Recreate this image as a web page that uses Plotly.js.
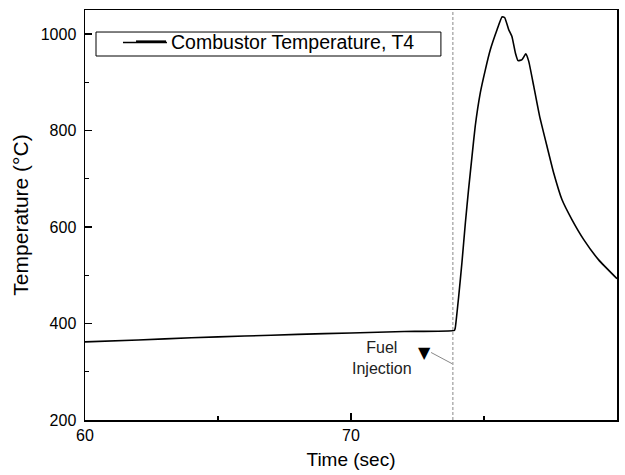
<!DOCTYPE html>
<html>
<head>
<meta charset="utf-8">
<script src="https://cdn.plot.ly/plotly-3.0.1.min.js"></script>
<style>html,body{margin:0;padding:0;background:#fff;}#chart{width:625px;height:475px;}</style>
</head>
<body>
<div id="chart"></div>
<script>
// Time (sec) and combustor temperature T4 (°C)
const timeSec = [60, 62, 64, 66, 68, 70, 72, 73.89, 73.92, 74.05, 74.17, 74.30, 74.42, 74.55, 74.67, 74.86, 75.05, 75.24, 75.49, 75.68, 75.78, 75.93, 76.05, 76.18, 76.28, 76.43, 76.57, 76.68, 76.87, 77.09, 77.37, 77.62, 77.93, 78.31, 78.75, 79.31, 80];
const tempT4 = [362, 366, 370.5, 374, 377.5, 380.5, 383.5, 386, 391, 457, 526, 609, 678, 747, 809, 878, 926, 968, 1009, 1036, 1034, 1009, 995, 961, 945, 947, 959, 944, 892, 830, 767, 712, 657, 615, 574, 532, 493];
const seriesName = 'Combustor Temperature, T4';
const fuelInjectionTime = 73.83;
const xTickVals = [60, 70, 80];
const yTickVals = [200, 400, 600, 800, 1000];

const FONT = 'Liberation Sans, Arial, sans-serif';

const trace = {
  x: timeSec, y: tempT4, name: seriesName, type: 'scatter', mode: 'lines',
  line: {color: '#000', width: 1.6, shape: 'spline', smoothing: 0.4}
};

const axisCommon = {
  showgrid: false, zeroline: false, showline: true, linecolor: '#000', linewidth: 1.5,
  mirror: true, ticks: 'inside', ticklen: 7, tickwidth: 1.3, tickcolor: '#000',
  tickfont: {family: FONT, size: 16, color: '#000'}
};

const layout = {
  width: 625, height: 475,
  margin: {l: 85, r: 8, t: 10, b: 55},
  paper_bgcolor: '#fff', plot_bgcolor: '#fff',
  font: {family: FONT, color: '#000'},
  xaxis: Object.assign({}, axisCommon, {
    range: [60, 80], tickvals: xTickVals, ticktext: xTickVals.map(String),
    minor: {ticks: 'inside', ticklen: 4, tickwidth: 1.3, tickcolor: '#000', dtick: 5, tick0: 60, showgrid: false},
    title: {text: 'Time (sec)', font: {family: FONT, size: 19, color: '#000'}, standoff: 10}
  }),
  yaxis: Object.assign({}, axisCommon, {
    range: [200, 1050], tickvals: yTickVals, ticktext: yTickVals.map(String),
    minor: {ticks: 'inside', ticklen: 4, tickwidth: 1.3, tickcolor: '#000', dtick: 100, tick0: 200, showgrid: false},
    ticklabelstandoff: 4,
    title: {text: 'Temperature (°C)', font: {family: FONT, size: 21, color: '#000'}, standoff: 6}
  }),
  showlegend: true,
  legend: {
    x: 0.0865, y: 0.9707, xanchor: 'left', yanchor: 'top',
    bgcolor: 'rgba(0,0,0,0)', borderwidth: 0,
    font: {family: FONT, size: 19.5, color: '#000'}
  },
  shapes: [
    {type: 'line', xref: 'x', yref: 'paper', x0: fuelInjectionTime, x1: fuelInjectionTime, y0: 0, y1: 1,
     line: {color: '#888', width: 1, dash: '3px,2px'}},
    {type: 'rect', xref: 'paper', yref: 'paper', x0: 0.0207, x1: 0.669, y0: 0.8878, y1: 0.9463,
     line: {color: '#000', width: 1}, fillcolor: 'rgba(0,0,0,0)'},
    {type: 'line', xref: 'paper', yref: 'paper', x0: 0.0714, x1: 0.1541, y0: 0.9207, y1: 0.9207,
     line: {color: '#000', width: 1.6}}
  ],
  annotations: [
    {x: 73.01, y: 340, ax: 73.86, ay: 315, xref: 'x', yref: 'y', axref: 'x', ayref: 'y',
     text: '', showarrow: true, arrowhead: 0, arrowcolor: '#888', arrowwidth: 1},
    {x: 72.75, y: 340, xref: 'x', yref: 'y', text: '▼', showarrow: false,
     font: {family: 'DejaVu Sans', size: 16, color: '#000'}},
    {x: 71.17, y: 329.5, xref: 'x', yref: 'y', text: 'Fuel<br>Injection', showarrow: false,
     font: {family: FONT, size: 16, color: '#222'}}
  ]
};

Plotly.newPlot('chart', [trace], layout, {displayModeBar: false, staticPlot: true});
</script>
</body>
</html>
